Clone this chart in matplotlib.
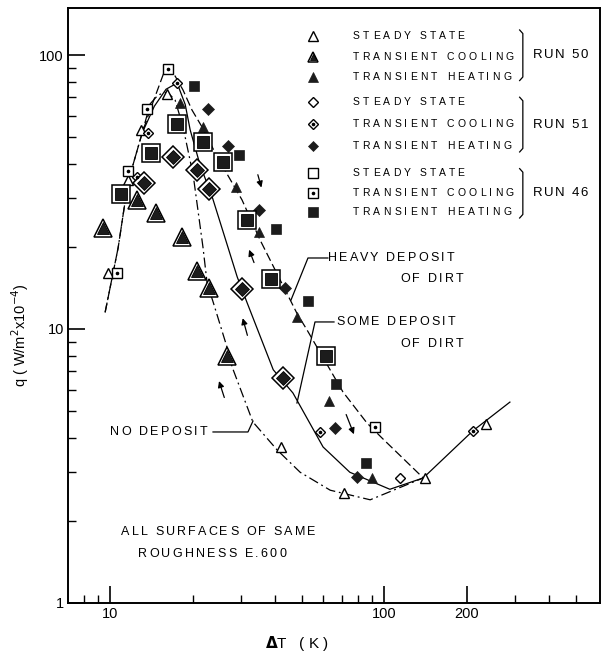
import numpy as np
import matplotlib.pyplot as plt
from matplotlib import transforms
from matplotlib.font_manager import FontProperties
from matplotlib.textpath import TextToPath

plt.rcParams["font.family"] = ["Liberation Sans", "DejaVu Sans"]

# ---- measured points (dT in K, q in W/m2 x 1e-4) ----
# RUN 50 (triangles)
r50_steady_dt = [16.15, 12.97, 11.63, 9.83, 42.0, 71.5, 141.0, 236.0]
r50_steady_q = [72.1, 53.2, 35.0, 16.0, 3.7, 2.52, 2.86, 4.5]
r50_cool_dt = [9.43, 12.55, 14.72, 18.3, 20.78, 22.97, 26.7]
r50_cool_q = [23.3, 29.6, 26.5, 21.7, 16.3, 14.1, 8.0]
r50_heat_dt = [18.0, 21.84, 28.8, 35.0, 48.1, 63.0, 90.3]
r50_heat_q = [66.8, 54.6, 33.0, 22.6, 11.1, 5.45, 2.86]

# RUN 51 (diamonds)
r51_steady_dt = [114.0]
r51_steady_q = [2.86]
r51_cooldot_dt = [17.56, 13.77, 12.55, 58.4, 211.0]
r51_cooldot_q = [79.0, 51.9, 35.9, 4.2, 4.25]
r51_cool_dt = [16.98, 20.78, 13.3, 22.97, 30.3, 42.8]
r51_cool_q = [42.5, 38.0, 34.1, 32.4, 14.0, 6.6]
r51_heat_dt = [22.8, 26.96, 35.0, 43.5, 66.2, 79.7]
r51_heat_q = [63.5, 46.5, 27.2, 14.1, 4.35, 2.88]

# RUN 46 (squares)
r46_cooldot_dt = [16.29, 13.65, 11.63, 10.6, 92.6]
r46_cooldot_q = [88.9, 63.5, 37.7, 16.0, 4.4]
r46_cool_dt = [17.56, 21.84, 14.12, 25.8, 10.97, 31.6, 38.7, 61.4]
r46_cool_q = [56.0, 48.1, 43.9, 40.7, 31.1, 25.0, 15.2, 8.0]
r46_heat_dt = [20.26, 29.6, 40.4, 52.8, 66.8, 85.9]
r46_heat_q = [77.1, 43.2, 23.2, 12.6, 6.3, 3.24]

# faired curves
no_dep_dt = [9.59, 10.7, 11.63, 13.09, 14.0, 14.97, 16.15, 17.27, 18.46, 20.1,
             21.84, 22.6, 23.8, 26.7, 27.9, 33.2, 40.7, 49.4, 63.6, 89.0, 139.0]
no_dep_q = [11.5, 19.8, 34.4, 51.9, 66.3, 71.5, 73.3, 68.5, 54.6, 36.5,
            19.8, 14.7, 12.5, 8.6, 7.26, 4.58, 3.62, 3.0, 2.58, 2.38, 2.86]
some_dep_dt = [13.09, 14.5, 16.0, 17.56, 18.8, 19.6, 21.3, 23.6, 26.96, 29.1,
               31.6, 39.4, 46.5, 59.9, 75.0, 105.0, 139.0]
some_dep_q = [51.9, 65.0, 75.0, 79.0, 66.0, 53.3, 39.7, 30.3, 19.8, 15.5,
              12.5, 7.1, 5.84, 3.71, 3.0, 2.6, 2.86]
heavy_dt = [9.59, 10.7, 11.63, 13.09, 14.0, 15.75, 16.29, 17.27, 18.46, 19.9,
            21.66, 24.6, 30.3, 35.3, 48.1, 52.4, 70.8, 86.6, 98.3, 139.0]
heavy_q = [11.5, 19.8, 34.4, 51.9, 63.0, 86.7, 88.9, 83.8, 74.5, 63.0,
           54.6, 42.5, 29.6, 21.1, 11.4, 9.9, 5.89, 4.54, 4.0, 2.86]
film_dt = [139.0, 211.0, 288.0]
film_q = [2.86, 4.25, 5.41]

# direction arrows: (tail dT, tail q, head dT, head q)
arrows = [(34.4, 37.4, 35.9, 32.1), (33.8, 17.1, 31.9, 19.9),
          (31.9, 9.27, 30.3, 11.2), (26.3, 5.5, 24.8, 6.6),
          (72.1, 4.98, 78.3, 4.04)]

DARK = "#1c1c1c"
t2p = TextToPath()


def spaced_text(ax, x, y, s, size, track=1.6, ha="left"):
    """Letter-spaced text placed in axes fraction coordinates."""
    fp = FontProperties(family="Liberation Sans", size=size)
    full = t2p.get_text_width_height_descent(s, fp, ismath=False)[0]
    total = full + track * (len(s) - 1)
    start = {"left": 0.0, "right": -total, "center": -total / 2}[ha]
    for i, ch in enumerate(s):
        if ch == " ":
            continue
        pre = t2p.get_text_width_height_descent(s[:i], fp, ismath=False)[0] if i else 0.0
        tr = transforms.offset_copy(ax.transAxes, fig=ax.figure,
                                    x=start + pre + track * i, y=0, units="points")
        ax.text(x, y, ch, transform=tr, fontproperties=fp, ha="left",
                va="center", color="black")


def open_pts(ax, x, y, m, ms):
    ax.plot(x, y, ls="none", marker=m, ms=ms, mfc="white", mec="black",
            mew=1.0, zorder=4)


def dot_pts(ax, x, y, m, ms):
    open_pts(ax, x, y, m, ms)
    ax.plot(x, y, ls="none", marker="o", ms=1.6, mfc="black", mec="black",
            zorder=5)


def double_pts(ax, x, y, m, ms_out, ms_in):
    ax.plot(x, y, ls="none", marker=m, ms=ms_out, mfc="white", mec="black",
            mew=1.1, zorder=4)
    ax.plot(x, y, ls="none", marker=m, ms=ms_in, mfc=DARK, mec="black",
            mew=0.6, zorder=5)


def filled_pts(ax, x, y, m, ms):
    ax.plot(x, y, ls="none", marker=m, ms=ms, mfc=DARK, mec=DARK,
            mew=0.5, zorder=4)


fig = plt.figure(figsize=(6.05, 6.53), dpi=100)
ax = fig.add_axes([0.1124, 0.0766, 0.8793, 0.9112])
ax.set_xscale("log")
ax.set_yscale("log")
ax.set_xlim(7.02, 614)
ax.set_ylim(1.0, 148.5)

# curves
ax.plot(no_dep_dt, no_dep_q, color="black", lw=0.9, ls=(0, (8, 3, 1.5, 3)))
ax.plot(some_dep_dt, some_dep_q, color="black", lw=0.9)
ax.plot(heavy_dt, heavy_q, color="black", lw=0.9, ls=(0, (7, 3)))
ax.plot(film_dt, film_q, color="black", lw=0.9)

# run 50
open_pts(ax, r50_steady_dt, r50_steady_q, "^", 6.5)
double_pts(ax, r50_cool_dt, r50_cool_q, "^", 13.5, 8.5)
filled_pts(ax, r50_heat_dt, r50_heat_q, "^", 7)
# run 51
open_pts(ax, r51_steady_dt, r51_steady_q, "D", 5.5)
dot_pts(ax, r51_cooldot_dt, r51_cooldot_q, "D", 5.5)
double_pts(ax, r51_cool_dt, r51_cool_q, "D", 11.5, 7)
filled_pts(ax, r51_heat_dt, r51_heat_q, "D", 6.5)
# run 46
dot_pts(ax, r46_cooldot_dt, r46_cooldot_q, "s", 6.5)
double_pts(ax, r46_cool_dt, r46_cool_q, "s", 13, 8.5)
filled_pts(ax, r46_heat_dt, r46_heat_q, "s", 6.5)

for x0, y0, x1, y1 in arrows:
    ax.annotate("", xy=(x1, y1), xytext=(x0, y0),
                arrowprops=dict(arrowstyle="-|>", color="black", lw=0.9,
                                mutation_scale=9))

# axes styling
for sp in ax.spines.values():
    sp.set_linewidth(1.4)
ax.tick_params(which="both", direction="in", top=False, right=False,
               labelsize=10.5, pad=3)
ax.tick_params(which="major", length=12, width=1.2)
ax.tick_params(which="minor", length=6, width=1.0)
ax.set_xticks([10, 100, 200])
ax.set_xticklabels(["10", "100", "200"])
ax.set_xticks([8, 9, 20, 30, 40, 50, 60, 70, 80, 90, 300, 400, 500], minor=True)
ax.set_xticklabels([], minor=True)
ax.set_yticks([1, 10, 100])
ax.set_yticklabels(["1", "10", "100"])
ax.set_yticks([2, 3, 4, 5, 6, 7, 8, 9, 20, 30, 40, 50, 60, 70, 80, 90], minor=True)
ax.set_yticklabels([], minor=True)

ax.set_xlabel(r"$\mathbf{\Delta}$T   ( K )", fontsize=11)
ax.xaxis.set_label_coords(0.43, -0.052)
ax.set_ylabel(r"q ( W/m$^{2}$x10$^{-4}$)", fontsize=10.5)
ax.yaxis.set_label_coords(-0.07, 0.45)

# legend block
rows = [
    (0.953, "^", "open", "STEADY STATE"),
    (0.918, "^", "double", "TRANSIENT COOLING"),
    (0.884, "^", "filled", "TRANSIENT HEATING"),
    (0.842, "D", "open", "STEADY STATE"),
    (0.805, "D", "dot", "TRANSIENT COOLING"),
    (0.768, "D", "filled", "TRANSIENT HEATING"),
    (0.7227, "s", "open", "STEADY STATE"),
    (0.689, "s", "dot", "TRANSIENT COOLING"),
    (0.657, "s", "filled", "TRANSIENT HEATING"),
]
lx = 0.4605
for yy, m, kind, label in rows:
    ms = 6.5 if m != "D" else 5.5
    if kind == "open":
        open_pts(ax, [lx], [yy], m, ms)
    elif kind == "dot":
        dot_pts(ax, [lx], [yy], m, ms)
    elif kind == "double":
        double_pts(ax, [lx], [yy], m, 7.5, 4.5)
    else:
        filled_pts(ax, [lx], [yy], m, ms)
    ax.lines[-1].set_transform(ax.transAxes)
    if kind in ("dot", "double"):
        ax.lines[-2].set_transform(ax.transAxes)
    spaced_text(ax, 0.5357, yy, label, 7.5, track=2.3)

for top, bot, run in [(0.963, 0.878, "RUN 50"), (0.85, 0.758, "RUN 51"),
                      (0.73, 0.647, "RUN 46")]:
    bx = 0.855
    ax.plot([bx - 0.006, bx, bx, bx - 0.006], [top, top - 0.006, bot + 0.006, bot],
            color="black", lw=0.9, transform=ax.transAxes)
    spaced_text(ax, 0.874, (top + bot) / 2, run, 9.5, track=1.2)

# curve labels with leaders
spaced_text(ax, 0.4885, 0.5798, "HEAVY DEPOSIT", 9, track=1.6)
spaced_text(ax, 0.7429, 0.5445, "OF DIRT", 9, track=1.6, ha="right")
spaced_text(ax, 0.5038, 0.4723, "SOME DEPOSIT", 9, track=1.6)
spaced_text(ax, 0.7429, 0.435, "OF DIRT", 9, track=1.6, ha="right")
spaced_text(ax, 0.079, 0.2874, "NO DEPOSIT", 9, track=1.6)
ax.plot([0.4885, 0.4511, 0.4192], [0.5798, 0.5798, 0.5092], color="black",
        lw=0.9, transform=ax.transAxes)
ax.plot([0.5000, 0.4643, 0.4304], [0.4723, 0.4723, 0.3361], color="black",
        lw=0.9, transform=ax.transAxes)
ax.plot([0.2726, 0.3383, 0.3477], [0.2874, 0.2874, 0.3058], color="black",
        lw=0.9, transform=ax.transAxes)

spaced_text(ax, 0.10, 0.12, "ALL SURFACES OF SAME", 9, track=1.6)
spaced_text(ax, 0.41, 0.082, "ROUGHNESS E.600", 9, track=1.6, ha="right")

fig.savefig("out.png", dpi=100)
